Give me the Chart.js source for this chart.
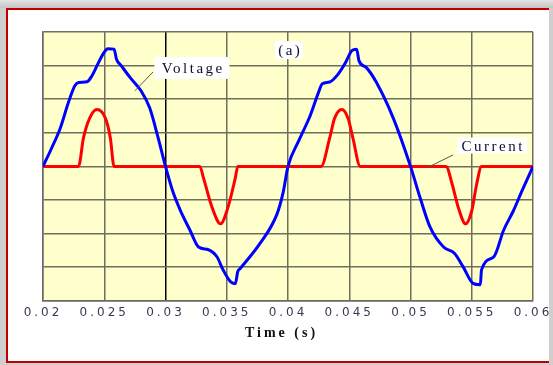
<!DOCTYPE html>
<html>
<head>
<meta charset="utf-8">
<script src="https://cdn.jsdelivr.net/npm/chart.js@4"></script>
<style>
body { margin:0; width:553px; height:365px; overflow:hidden; position:relative; background:linear-gradient(to bottom, #e4e4e4, #c4c4c4 8px, #cfcfcf 8px); }
#marco { position:absolute; left:6px; top:8px; width:541px; height:351px; border:2px solid #c00000; border-right:none; background:#fff; }
#grafico { position:absolute; left:0; top:0; }
</style>
</head>
<body>
<div id="marco"></div>
<canvas id="grafico" width="553" height="365"></canvas>
<script>
// datos (tiempo en s, amplitud en divisiones de la grilla)
var tiempoV = [0.0200, 0.0207, 0.0214, 0.0221, 0.0226, 0.0229, 0.0236, 0.0240, 0.0244, 0.0249, 0.0253, 0.0258, 0.0260, 0.0264, 0.0271, 0.0280, 0.0287, 0.0294, 0.0300,
               0.0306, 0.0312, 0.0320, 0.0327, 0.0335, 0.0342, 0.0347, 0.0353, 0.0357, 0.0359, 0.0361, 0.0377, 0.0391, 0.0396, 0.0400,
               0.0409, 0.0418, 0.0425, 0.0428, 0.0434, 0.0441, 0.0447, 0.0452, 0.0456, 0.0458, 0.0464, 0.0472, 0.0486, 0.0500,
               0.0508, 0.0516, 0.0527, 0.0536, 0.0543, 0.0551, 0.0557, 0.0558, 0.0568, 0.0576, 0.0584, 0.0591, 0.0600];
var voltaje = [0, 0.54, 1.13, 1.93, 2.40, 2.50, 2.52, 2.70, 2.99, 3.34, 3.50, 3.49, 3.19, 2.99, 2.65, 2.25, 1.75, 0.85, 0,
               -0.75, -1.30, -1.90, -2.40, -2.48, -2.69, -3.08, -3.43, -3.49, -3.13, -3.04, -2.30, -1.42, -0.78, 0,
               0.78, 1.50, 2.21, 2.46, 2.51, 2.75, 3.09, 3.44, 3.49, 3.14, 2.94, 2.51, 1.43, 0,
               -0.95, -1.81, -2.40, -2.59, -2.99, -3.48, -3.52, -3.08, -2.69, -1.90, -1.32, -0.73, 0];

var tiempoI = [0.0200, 0.0229, 0.0233, 0.0238, 0.0244, 0.0251, 0.0255, 0.0258,
               0.0328, 0.0331, 0.0338, 0.0345, 0.0351, 0.0357, 0.0359,
               0.0427, 0.0434, 0.0438, 0.0444, 0.0449, 0.0453, 0.0459,
               0.0529, 0.0534, 0.0539, 0.0545, 0.0550, 0.0554, 0.0558, 0.0600];
var corriente = [0, 0, 0.84, 1.43, 1.69, 1.43, 0.84, 0,
                 0, -0.34, -1.22, -1.71, -1.22, -0.34, 0,
                 0, 0.84, 1.43, 1.69, 1.43, 0.84, 0,
                 0, -0.53, -1.22, -1.71, -1.32, -0.53, 0, 0];

var ticksX = [0.02, 0.025, 0.03, 0.035, 0.04, 0.045, 0.05, 0.055, 0.06];

// textos dentro del grafico
var etiquetas = [
    { texto: 'Voltage', t: 0.03216, v: 2.93, w: 75, h: 22, linea: [0.02751, 2.25, 0.02898, 2.81] },
    { texto: 'Current', t: 0.05665, v: 0.62, w: 70, h: 16, linea: [0.05135, -0.04, 0.05347, 0.34] },
    { texto: '(a)', t: 0.04008, v: 3.46, w: 28, h: 18 }
];

function puntos(xs, ys) {
    return xs.map(function (x, i) { return { x: x, y: ys[i] }; });
}

var fondo = {
    id: 'fondo',
    beforeDraw: function (chart) {
        var a = chart.chartArea, ctx = chart.ctx;
        ctx.save();
        ctx.fillStyle = '#ffffcc';
        ctx.fillRect(a.left, a.top, a.right - a.left, a.bottom - a.top);
        ctx.restore();
        ctx.letterSpacing = '3px';
    }
};

var notas = {
    id: 'notas',
    afterDatasetsDraw: function (chart) {
        var sx = chart.scales.x, sy = chart.scales.y, ctx = chart.ctx;
        ctx.save();
        ctx.letterSpacing = '2.5px';
        ctx.font = '15px "Liberation Serif"';
        ctx.textAlign = 'center';
        ctx.textBaseline = 'middle';
        etiquetas.forEach(function (e) {
            if (e.linea) {
                ctx.strokeStyle = '#555';
                ctx.lineWidth = 1;
                ctx.beginPath();
                ctx.moveTo(sx.getPixelForValue(e.linea[0]), sy.getPixelForValue(e.linea[1]));
                ctx.lineTo(sx.getPixelForValue(e.linea[2]), sy.getPixelForValue(e.linea[3]));
                ctx.stroke();
            }
            var px = sx.getPixelForValue(e.t), py = sy.getPixelForValue(e.v);
            ctx.fillStyle = '#fff';
            ctx.fillRect(px - e.w / 2, py - e.h / 2, e.w, e.h);
            ctx.fillStyle = '#0d0d30';
            ctx.fillText(e.texto, px + 1.25, py + 1);
        });
        ctx.restore();
    }
};

function colorGrilla(c) {
    if (c.tick && Math.abs(c.tick.value - 0.03) < 1e-6) return '#000';
    return '#6f6f5c';
}

var ctx = document.getElementById('grafico').getContext('2d');
var myChart = new Chart(ctx, {
    type: 'line',
    data: {
        datasets: [{
            label: 'Voltage',
            data: puntos(tiempoV, voltaje),
            borderColor: '#0000ff',
            borderWidth: 3,
            pointRadius: 0,
            cubicInterpolationMode: 'monotone'
        },
        {
            label: 'Current',
            data: puntos(tiempoI, corriente),
            borderColor: '#ff0000',
            borderWidth: 3,
            pointRadius: 0,
            cubicInterpolationMode: 'monotone'
        }]
    },
    options: {
        responsive: false,
        animation: false,
        layout: { padding: { left: 43, top: 32, right: 20, bottom: 18 } },
        plugins: { legend: { display: false }, tooltip: { enabled: false } },
        scales: {
            x: {
                type: 'linear',
                min: 0.02,
                max: 0.06,
                afterBuildTicks: function (axis) {
                    axis.ticks = ticksX.map(function (v) { return { value: v }; });
                },
                ticks: {
                    autoSkip: false,
                    maxRotation: 0,
                    padding: 5,
                    color: '#3a3a4e',
                    font: { family: 'DejaVu Sans', size: 12 },
                    callback: function (v) { return String(+v.toFixed(3)); }
                },
                grid: { color: colorGrilla, lineWidth: 1.5, drawTicks: false },
                border: { color: '#6a6a6a', width: 1.5 },
                title: {
                    display: true,
                    text: 'Time (s)\u00a0\u00a0',
                    color: '#111',
                    font: { family: 'Liberation Serif', size: 14, weight: 'bold' },
                    padding: { top: 0, bottom: 5 }
                }
            },
            y: {
                min: -4,
                max: 4,
                ticks: { display: false, stepSize: 1 },
                grid: { color: '#6f6f5c', lineWidth: 1.5, drawTicks: false },
                border: { color: '#6a6a6a', width: 1.5 }
            }
        }
    },
    plugins: [fondo, notas]
});
</script>
</body>
</html>
